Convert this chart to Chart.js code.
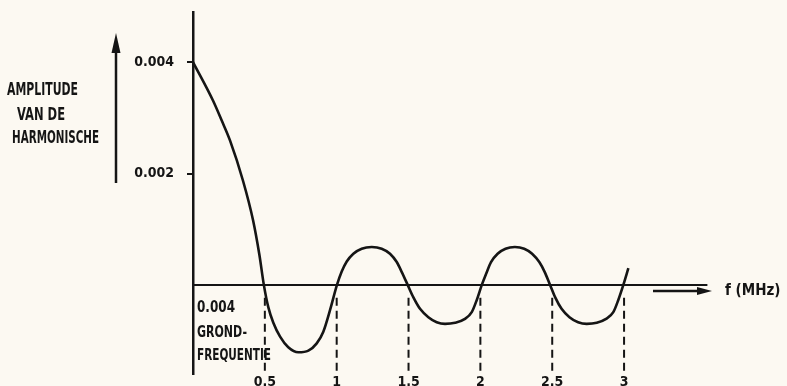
<!DOCTYPE html>
<html>
<head>
<meta charset="utf-8">
<script src="https://cdn.jsdelivr.net/npm/chart.js@4"></script>
<style>
  html, body { margin: 0; padding: 0; background: #fcf9f2; }
</style>
</head>
<body>
<canvas id="chart" width="787" height="386"></canvas>
<script>
// curve (frequency in MHz, amplitude)
var freqs = [0, 0.139, 0.2, 0.258, 0.348, 0.418, 0.462, 0.493,
  0.524, 0.559, 0.606, 0.663, 0.733, 0.803, 0.861, 0.907, 0.954, 1.002,
  1.035, 1.07, 1.116, 1.174, 1.244, 1.313, 1.371, 1.418, 1.453, 1.494,
  1.533, 1.58, 1.638, 1.696, 1.754, 1.824, 1.893, 1.94, 1.975, 2.01,
  2.04, 2.074, 2.12, 2.175, 2.24, 2.305, 2.36, 2.41, 2.448, 2.485,
  2.52, 2.565, 2.62, 2.68, 2.74, 2.81, 2.875, 2.925, 2.96, 2.995, 3.03];
var amps = [0.004, 0.00331, 0.00295, 0.00259, 0.00187, 0.00116, 0.00054, 0,
  -0.0004, -0.00068, -0.00093, -0.00112, -0.00121, -0.00118, -0.00105, -0.00084, -0.00045, 0,
  0.00024, 0.00042, 0.00056, 0.00065, 0.00068, 0.00065, 0.00056, 0.00041, 0.00023, 0,
  -0.00022, -0.00043, -0.00058, -0.00067, -0.0007, -0.00068, -0.00061, -0.00049, -0.00027, 0,
  0.0002, 0.00041, 0.00056, 0.00065, 0.00068, 0.00065, 0.00056, 0.00041, 0.00023, 0,
  -0.00022, -0.00043, -0.00058, -0.00067, -0.0007, -0.00068, -0.00061, -0.00049, -0.00027, 0, 0.0003];
var xTicks = [0.5, 1, 1.5, 2, 2.5, 3];
var yTicks = [0.004, 0.002];

var ink = '#151515';
var fam = '"DejaVu Sans Condensed", "DejaVu Sans", sans-serif';

var curve = freqs.map(function (f, i) { return { x: f, y: amps[i] }; });

// dashed drop lines under the axis at each tick
var dashSets = xTicks.map(function (t) {
    return {
        data: [{ x: t, y: -0.00023 }, { x: t, y: -0.00157 }],
        borderColor: ink, borderWidth: 2, borderDash: [8, 5],
        pointRadius: 0, showLine: true
    };
});

function noPad(s) {
    s.paddingTop = 0; s.paddingBottom = 0; s.paddingLeft = 0; s.paddingRight = 0;
}

var notes = {
    id: 'notes',
    afterDraw: function (chart) {
        var ctx = chart.ctx;
        ctx.save();
        ctx.fillStyle = ink;
        ctx.strokeStyle = ink;
        ctx.textBaseline = 'alphabetic';
        ctx.textAlign = 'left';

        ctx.font = 'bold 17px ' + fam;
        ctx.fillText('AMPLITUDE', 7, 95, 71);
        ctx.fillText('VAN DE', 17, 120, 48);
        ctx.fillText('HARMONISCHE', 12, 143, 87);

        ctx.font = 'bold 15px ' + fam;
        ctx.fillText('0.004', 197, 312, 38);
        ctx.fillText('GROND-', 197, 337, 50);
        ctx.fillText('FREQUENTIE', 197, 360, 74);
        ctx.fillText('f (MHz)', 725, 295, 62);

        // vertical arrow next to the y label
        ctx.lineWidth = 2.5;
        ctx.beginPath();
        ctx.moveTo(116, 50); ctx.lineTo(116, 183);
        ctx.stroke();
        ctx.beginPath();
        ctx.moveTo(116, 33); ctx.lineTo(111.5, 53); ctx.lineTo(120.5, 53);
        ctx.closePath(); ctx.fill();

        // arrow pointing to f (MHz)
        ctx.beginPath();
        ctx.moveTo(653, 291); ctx.lineTo(700, 291);
        ctx.stroke();
        ctx.beginPath();
        ctx.moveTo(712, 291); ctx.lineTo(697, 287); ctx.lineTo(697, 295);
        ctx.closePath(); ctx.fill();
        ctx.restore();
    }
};

var ctx = document.getElementById('chart').getContext('2d');
var chart = new Chart(ctx, {
    type: 'scatter',
    data: {
        datasets: [{
            data: curve,
            borderColor: ink, borderWidth: 2.6,
            pointRadius: 0, showLine: true,
            cubicInterpolationMode: 'monotone'
        }, {
            data: [{ x: 0, y: 0 }, { x: 3.58, y: 0 }],
            borderColor: ink, borderWidth: 2,
            pointRadius: 0, showLine: true
        }].concat(dashSets)
    },
    options: {
        responsive: false,
        animation: false,
        layout: { padding: { top: 12, right: 75, left: 0, bottom: 0 } },
        plugins: { legend: { display: false }, tooltip: { enabled: false } },
        scales: {
            x: {
                type: 'linear', min: 0, max: 3.612,
                grid: { display: false, drawTicks: false },
                border: { display: false },
                ticks: {
                    color: ink, padding: 0,
                    font: { family: fam, size: 14, weight: 'bold' },
                    callback: function (v) { return String(v); }
                },
                afterBuildTicks: function (s) { s.ticks = xTicks.map(function (v) { return { value: v }; }); },
                afterFit: function (s) { s.height = 12; noPad(s); }
            },
            y: {
                min: -0.0016, max: 0.0049,
                grid: { drawOnChartArea: false, drawTicks: true, tickLength: 6, color: ink, lineWidth: 2 },
                border: { display: true, color: ink, width: 2.5 },
                ticks: {
                    color: ink, padding: 13,
                    font: { family: fam, size: 14, weight: 'bold' },
                    callback: function (v) { return v.toFixed(3); }
                },
                afterBuildTicks: function (s) { s.ticks = yTicks.map(function (v) { return { value: v }; }); },
                afterFit: function (s) { s.width = 193; noPad(s); }
            }
        }
    },
    plugins: [notes]
});
</script>
</body>
</html>
